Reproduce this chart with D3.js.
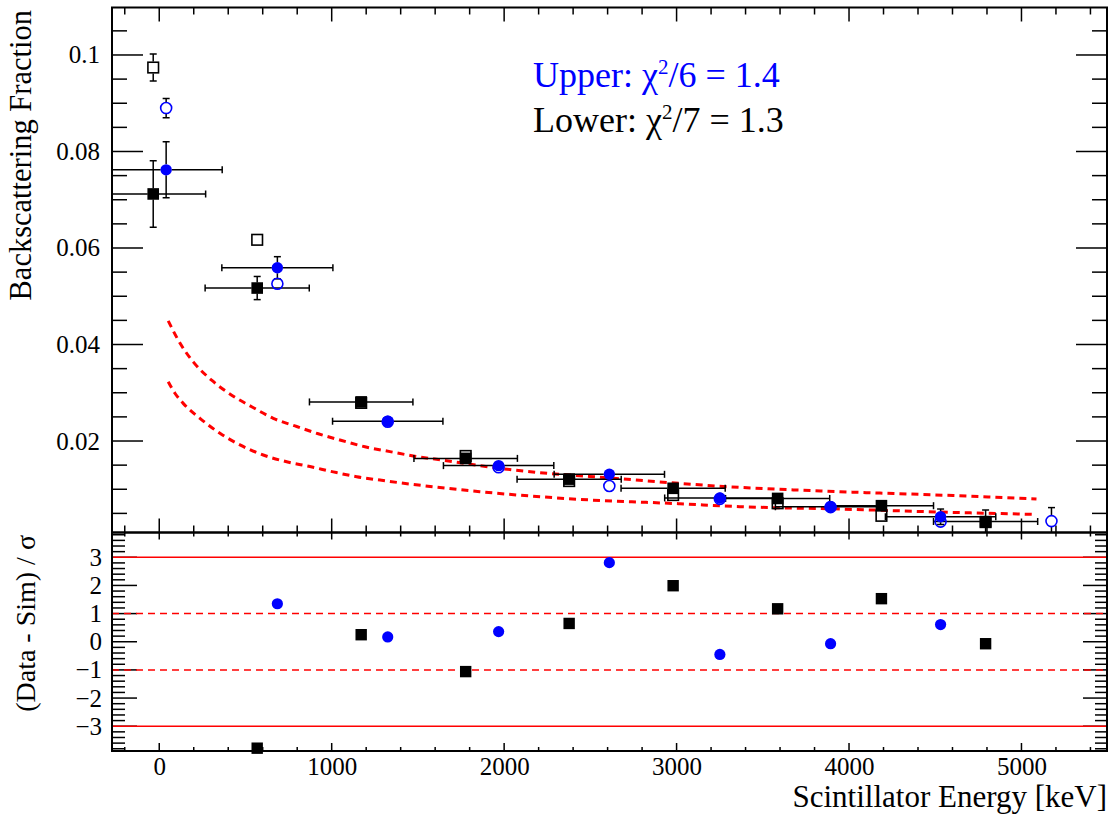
<!DOCTYPE html>
<html><head><meta charset="utf-8">
<script src="https://cdn.jsdelivr.net/npm/d3@7"></script>
<style>
body{margin:0;background:#fff}
svg{display:block}
text{font-family:"Liberation Serif","Times New Roman",serif}
</style>
</head><body>
<svg id="c" width="1117" height="817"></svg>
<script>
// ---------------- data ----------------
const upperE       = [40, 685, 1325, 1968, 2610, 3251, 3893, 4531];
const upperEErr    = [325, 322, 320, 320, 320, 320, 320, 320];
const upperData    = [0.0762, 0.0559, 0.0241, 0.0149, 0.0131, 0.0082, 0.0064, 0.0043];
const upperDataErr = [0.0058, 0.0023, 0.0006, 0.0005, 0.0005, 0.0005, 0.0005, 0.0016];

const upperSimE    = [40, 685, 1325, 1968, 2610, 3251, 3893, 4531, 5174];
const upperSim     = [0.0890, 0.0526, 0.0240, 0.01455, 0.01067, 0.0080, 0.0063, 0.0033, 0.0034];
const upperSimErr  = [0.0020, 0.0005, 0.0005, 0.0004, 0.0004, 0.0004, 0.0004, 0.0005, 0.0028];

const lowerE       = [-35, 568, 1171, 1777, 2377, 2980, 3586, 4188, 4792];
const lowerEErr    = [304, 302, 300, 300, 302, 302, 302, 302, 302];
const lowerData    = [0.0712, 0.0517, 0.0281, 0.0164, 0.0121, 0.0102, 0.0081, 0.0066, 0.0033];
const lowerDataErr = [0.0069, 0.0024, 0.0006, 0.0005, 0.0005, 0.0005, 0.0005, 0.0008, 0.0024];

const lowerSim     = [0.0974, 0.0617, 0.0279, 0.0169, 0.0117, 0.0088, 0.0071, 0.0045, 0.0032];
const lowerSimErr  = [0.0028, 0.0006, 0.0005, 0.0004, 0.0004, 0.0004, 0.0004, 0.0004, 0.0004];

const upperCurveE = [52, 120, 197, 304, 420, 536, 661, 797, 922, 1058, 1193, 1338, 1473, 1628, 2053, 2632, 3309, 3947, 4604, 5087];
const upperCurve  = [0.0449, 0.0403, 0.0364, 0.0326, 0.0295, 0.0271, 0.0247, 0.0230, 0.0215, 0.0201, 0.0188, 0.0178, 0.0169, 0.0161, 0.0140, 0.0123, 0.0105, 0.0095, 0.0087, 0.0080];
const lowerCurveE = [52, 91, 139, 236, 352, 468, 603, 739, 874, 1009, 1145, 1280, 1859, 2439, 3019, 3367, 3947, 4604, 5077];
const lowerCurve  = [0.0323, 0.0299, 0.0278, 0.0247, 0.0216, 0.0192, 0.0171, 0.0157, 0.0147, 0.0136, 0.0126, 0.0119, 0.0095, 0.0079, 0.0070, 0.0064, 0.0059, 0.0052, 0.0048];

const upperResE = [685, 1325, 1968, 2610, 3251, 3893, 4531];
const upperRes  = [1.35, 0.17, 0.36, 2.81, -0.45, -0.07, 0.61];
const lowerResE = [568, 1171, 1777, 2377, 2980, 3586, 4188, 4792];
const lowerRes  = [-3.78, 0.25, -1.06, 0.65, 1.99, 1.17, 1.53, -0.07];

const xMajor = [0, 1000, 2000, 3000, 4000, 5000];
const xMajorLabels = ["0", "1000", "2000", "3000", "4000", "5000"];
const yMajor = [0.02, 0.04, 0.06, 0.08, 0.1];
const yMajorLabels = ["0.02", "0.04", "0.06", "0.08", "0.1"];
const rMajor = [-3, -2, -1, 0, 1, 2, 3];
const rMajorLabels = ["\u22123", "\u22122", "\u22121", "0", "1", "2", "3"];
const rSolid = [-3, 3];
const rDashed = [-1, 1];

// ---------------- layout ----------------
const FONT = '"Liberation Serif","Times New Roman",serif';
const L = 112, R = 1107, T1 = 7.5, B1 = 532.5, T2 = 532.5, B2 = 751;
const svg = d3.select("#c");
const x  = d3.scaleLinear().domain([-274, 5496]).range([L, R]);
const y1 = d3.scaleLinear().domain([0.00104, 0.10984]).range([B1, T1]);
const y2 = d3.scaleLinear().domain([-3.88, 3.88]).range([B2, T2]);

const BLUE = "#0000ff", RED = "#ff0000";

svg.append("defs").append("clipPath").attr("id", "clipTop")
  .append("rect").attr("x", L).attr("y", T1).attr("width", R - L).attr("height", B1 - T1);

function range(a, b, s) { const out = []; for (let v = a; v <= b + 1e-9; v += s) out.push(+v.toFixed(6)); return out; }
const xMinor = range(-200, 5400, 200).filter(v => v % 1000 !== 0);
const yMinor = range(0.005, 0.105, 0.005).filter(v => Math.abs(v / 0.02 - Math.round(v / 0.02)) > 1e-6);
const rMinor = range(-3.8, 3.8, 0.2).filter(v => Math.abs(v - Math.round(v)) > 1e-6);

function ticksH(g, vals, scale, yPos, len) {
  g.selectAll(null).data(vals).enter().append("line")
    .attr("x1", d => scale(d)).attr("x2", d => scale(d))
    .attr("y1", yPos).attr("y2", yPos + len)
    .attr("stroke", "#000").attr("stroke-width", 1.5);
}
function ticksV(g, vals, scale, xPos, len) {
  g.selectAll(null).data(vals).enter().append("line")
    .attr("y1", d => scale(d)).attr("y2", d => scale(d))
    .attr("x1", xPos).attr("x2", xPos + len)
    .attr("stroke", "#000").attr("stroke-width", 1.5);
}

const axes = svg.append("g");
// top panel ticks
ticksH(axes, xMajor, x, T1, 14); ticksH(axes, xMinor, x, T1, 7);
ticksH(axes, xMajor, x, B1, -14); ticksH(axes, xMinor, x, B1, -7);
ticksV(axes, yMajor, y1, L, 31); ticksV(axes, yMinor, y1, L, 15);
ticksV(axes, yMajor, y1, R, -31); ticksV(axes, yMinor, y1, R, -15);
// bottom panel ticks
ticksH(axes, xMajor, x, T2, 7); ticksH(axes, xMinor, x, T2, 4);
ticksH(axes, xMajor, x, B2, -8); ticksH(axes, xMinor, x, B2, -4);
ticksV(axes, rMajor, y2, L, 25); ticksV(axes, rMinor, y2, L, 13);
ticksV(axes, rMajor, y2, R, -24); ticksV(axes, rMinor, y2, R, -12);

// tick labels via d3 axes (ticks hidden)
const ylab = svg.append("g").attr("transform", `translate(${L},0)`)
  .call(d3.axisLeft(y1).tickValues(yMajor).tickFormat((d, i) => yMajorLabels[i]).tickSize(0).tickPadding(12));
const rlab = svg.append("g").attr("transform", `translate(${L},0)`)
  .call(d3.axisLeft(y2).tickValues(rMajor).tickFormat((d, i) => rMajorLabels[i]).tickSize(0).tickPadding(10));
const xlab = svg.append("g").attr("transform", `translate(0,${B2})`)
  .call(d3.axisBottom(x).tickValues(xMajor).tickFormat((d, i) => xMajorLabels[i]).tickSize(0).tickPadding(6));
[ylab, rlab, xlab].forEach(g => {
  g.attr("font-family", FONT).attr("font-size", 25);
  g.select(".domain").remove();
  g.selectAll("text").style("font-family", FONT).style("font-size", "25px").attr("fill", "#000");
});

// residual reference lines
svg.append("g").selectAll(null).data(rSolid).enter().append("line")
  .attr("x1", L).attr("x2", R).attr("y1", d => y2(d)).attr("y2", d => y2(d))
  .attr("stroke", RED).attr("stroke-width", 1.5);
svg.append("g").selectAll(null).data(rDashed).enter().append("line")
  .attr("x1", L).attr("x2", R).attr("y1", d => y2(d)).attr("y2", d => y2(d))
  .attr("stroke", RED).attr("stroke-width", 1.5).attr("stroke-dasharray", "7,5");

// curves
const plot = svg.append("g").attr("clip-path", "url(#clipTop)");
const line = d3.line().x(d => x(d[0])).y(d => y1(d[1])).curve(d3.curveMonotoneX);
[[upperCurveE, upperCurve], [lowerCurveE, lowerCurve]].forEach(([es, vs]) => {
  plot.append("path").datum(es.map((e, i) => [e, vs[i]]))
    .attr("d", line).attr("fill", "none").attr("stroke", RED)
    .attr("stroke-width", 3).attr("stroke-dasharray", "7,5");
});

// error bars
const CAP = 3.5;
function errBars(g, es, exs, vs, eys, gap) {
  const [d0, d1] = x.domain();
  const [v0, v1] = y1.domain();
  es.forEach((e, i) => {
    const cx = x(e), cy = y1(vs[i]);
    const s = (a, b, c, d) => g.append("line").attr("x1", a).attr("y1", b).attr("x2", c).attr("y2", d)
      .attr("stroke", "#000").attr("stroke-width", 1.5);
    if (exs) {
      const lo = e - exs[i], hi = e + exs[i];
      const xl = x(Math.max(lo, d0)), xh = x(Math.min(hi, d1));
      if (cx - gap > xl) s(xl, cy, cx - gap, cy);
      if (xh > cx + gap) s(cx + gap, cy, xh, cy);
      if (lo >= d0) s(xl, cy - CAP, xl, cy + CAP);
      if (hi <= d1) s(xh, cy - CAP, xh, cy + CAP);
    }
    if (eys) {
      const lo = vs[i] - eys[i], hi = vs[i] + eys[i];
      const yl = y1(Math.max(lo, v0)), yh = y1(Math.min(hi, v1));
      if (yh < cy - gap) s(cx, yh, cx, cy - gap);
      if (yl > cy + gap) s(cx, cy + gap, cx, yl);
      if (hi <= v1 && yh < cy - gap) s(cx - CAP, yh, cx + CAP, yh);
      if (lo >= v0 && yl > cy + gap) s(cx - CAP, yl, cx + CAP, yl);
    }
  });
}
const eb = plot.append("g");
errBars(eb, upperSimE, null, upperSim, upperSimErr, 6);
errBars(eb, lowerE, null, lowerSim, lowerSimErr, 6);
errBars(eb, upperE, upperEErr, upperData, upperDataErr, 5.5);
errBars(eb, lowerE, lowerEErr, lowerData, lowerDataErr, 5.5);

// markers (top panel)
const mk = svg.append("g");
mk.selectAll(null).data(upperSimE.map((e, i) => [e, upperSim[i]])).enter().append("circle")
  .attr("cx", d => x(d[0])).attr("cy", d => y1(d[1])).attr("r", 5.5)
  .attr("fill", "none").attr("stroke", BLUE).attr("stroke-width", 1.6);
mk.selectAll(null).data(lowerE.map((e, i) => [e, lowerSim[i]])).enter().append("rect")
  .attr("x", d => x(d[0]) - 5.3).attr("y", d => y1(d[1]) - 5.3).attr("width", 10.6).attr("height", 10.6)
  .attr("fill", "none").attr("stroke", "#000").attr("stroke-width", 1.6);
mk.selectAll(null).data(upperE.map((e, i) => [e, upperData[i]])).enter().append("circle")
  .attr("cx", d => x(d[0])).attr("cy", d => y1(d[1])).attr("r", 5.7).attr("fill", BLUE);
mk.selectAll(null).data(lowerE.map((e, i) => [e, lowerData[i]])).enter().append("rect")
  .attr("x", d => x(d[0]) - 5.8).attr("y", d => y1(d[1]) - 5.8).attr("width", 11.6).attr("height", 11.6)
  .attr("fill", "#000");

// markers (residual panel)
mk.selectAll(null).data(upperResE.map((e, i) => [e, upperRes[i]])).enter().append("circle")
  .attr("cx", d => x(d[0])).attr("cy", d => y2(d[1])).attr("r", 5.6).attr("fill", BLUE);
mk.selectAll(null).data(lowerResE.map((e, i) => [e, lowerRes[i]])).enter().append("rect")
  .attr("x", d => x(d[0]) - 5.7).attr("y", d => y2(d[1]) - 5.7).attr("width", 11.4).attr("height", 11.4)
  .attr("fill", "#000");

// frames
svg.append("rect").attr("x", L).attr("y", T1).attr("width", R - L).attr("height", B1 - T1)
  .attr("fill", "none").attr("stroke", "#000").attr("stroke-width", 2);
svg.append("rect").attr("x", L).attr("y", T2).attr("width", R - L).attr("height", B2 - T2)
  .attr("fill", "none").attr("stroke", "#000").attr("stroke-width", 2);

// titles
svg.append("text").attr("transform", "translate(31,10) rotate(-90)")
  .attr("text-anchor", "end").attr("font-size", 30.5).text("Backscattering Fraction");
svg.append("text").attr("transform", "translate(35,535) rotate(-90)")
  .attr("text-anchor", "end").attr("font-size", 28).text("(Data - Sim) / \u03c3");
svg.append("text").attr("x", R).attr("y", 807).attr("text-anchor", "end")
  .attr("font-size", 31).text("Scintillator Energy [keV]");

function chiText(yb, color, pre, ndf, val) {
  const t = svg.append("text").attr("x", 533).attr("y", yb).attr("font-size", 36).attr("fill", color);
  t.append("tspan").text(pre + " \u03c7");
  t.append("tspan").attr("font-size", 21).attr("dy", -13).text("2");
  t.append("tspan").attr("dy", 13).text("/" + ndf + " = " + val);
}
chiText(87, BLUE, "Upper:", 6, "1.4");
chiText(132, "#000", "Lower:", 7, "1.3");
</script>
</body></html>
